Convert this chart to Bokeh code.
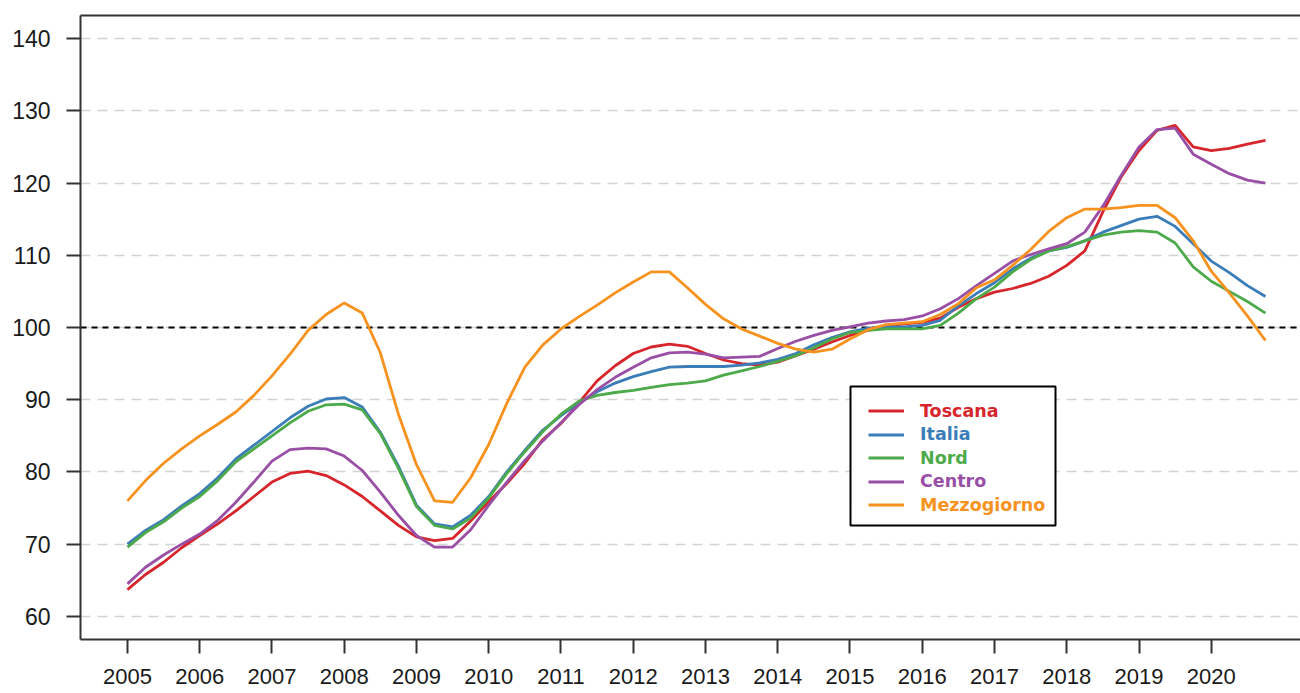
from bokeh.plotting import figure
from bokeh.models import (Range1d, FixedTicker, Span, Legend, LegendItem, LinearAxis,
                          BoxAnnotation)
from bokeh.embed import file_html
from bokeh.resources import INLINE

# ---------------- data (quarterly index, 2015 = 100) ----------------
years = list(range(2005, 2021))
quarters = [y + q / 4 for y in years for q in range(4)]

toscana = [63.7, 65.8, 67.5, 69.5, 71.2, 72.8, 74.6, 76.6, 78.6, 79.8, 80.1, 79.5,
           78.2, 76.6, 74.6, 72.6, 71.0, 70.5, 70.8, 73.2, 75.9, 78.4, 81.2, 84.5,
           86.7, 89.6, 92.6, 94.7, 96.4, 97.3, 97.7, 97.4, 96.4, 95.5, 95.0, 94.8,
           95.2, 96.1, 97.0, 98.0, 98.9, 99.6, 100.2, 100.5, 100.7, 101.3, 102.8, 104.0,
           104.9, 105.4, 106.1, 107.1, 108.6, 110.6, 116.0, 120.8, 124.5, 127.3, 128.0, 125.0,
           124.5, 124.8, 125.4, 125.9]
italia = [70.0, 71.9, 73.4, 75.3, 77.0, 79.2, 81.8, 83.7, 85.6, 87.5, 89.1, 90.1,
          90.3, 89.0, 85.5, 80.8, 75.4, 72.8, 72.4, 74.0, 76.6, 80.0, 83.0, 85.8,
          87.8, 89.6, 91.1, 92.3, 93.2, 93.9, 94.5, 94.6, 94.6, 94.6, 94.8, 95.1,
          95.6, 96.4, 97.6, 98.6, 99.4, 99.9, 100.1, 100.1, 100.3, 101.0, 103.0, 104.7,
          106.2, 108.1, 109.6, 110.6, 111.1, 112.0, 113.2, 114.1, 115.0, 115.4, 114.0, 111.6,
          109.2, 107.6, 105.8, 104.3]
nord = [69.6, 71.6, 73.1, 75.0, 76.6, 78.8, 81.4, 83.2, 85.0, 86.8, 88.4, 89.3,
        89.4, 88.6, 85.3, 80.5, 75.2, 72.6, 72.1, 73.6, 76.4, 79.8, 82.8, 85.6,
        88.0, 89.8, 90.6, 91.0, 91.3, 91.7, 92.1, 92.3, 92.6, 93.4, 94.0, 94.6,
        95.3, 96.1, 97.2, 98.4, 99.3, 99.6, 99.8, 99.8, 99.8, 100.3, 102.0, 104.0,
        105.6, 107.7, 109.4, 110.6, 111.2, 112.0, 112.8, 113.2, 113.4, 113.2, 111.7, 108.4,
        106.4, 105.0, 103.6, 102.0]
centro = [64.5, 66.8, 68.5, 70.0, 71.4, 73.3, 75.8, 78.6, 81.5, 83.1, 83.3, 83.2,
          82.2, 80.2, 77.2, 74.0, 71.2, 69.6, 69.6, 72.0, 75.4, 78.6, 81.6, 84.3,
          86.8, 89.3, 91.4, 93.1, 94.5, 95.8, 96.5, 96.6, 96.3, 95.8, 95.9, 96.0,
          97.1, 98.1, 98.9, 99.6, 100.1, 100.6, 100.9, 101.1, 101.6, 102.6, 104.0, 105.8,
          107.5, 109.2, 110.1, 110.9, 111.6, 113.2, 116.8, 121.0, 125.0, 127.4, 127.6, 124.0,
          122.6, 121.3, 120.4, 120.0]
mezzogiorno = [76.0, 78.8, 81.2, 83.2, 85.0, 86.6, 88.3, 90.6, 93.3, 96.3, 99.6, 101.8,
               103.4, 102.0, 96.5, 88.0, 81.0, 76.0, 75.8, 79.2, 83.8, 89.5, 94.5, 97.6,
               99.8, 101.5, 103.1, 104.8, 106.3, 107.7, 107.7, 105.5, 103.2, 101.2, 99.8, 98.8,
               97.8, 97.0, 96.6, 97.0, 98.4, 99.7, 100.4, 100.6, 100.8, 101.8, 103.3, 105.5,
               106.6, 108.6, 110.8, 113.3, 115.2, 116.4, 116.4, 116.6, 116.9, 116.9, 115.2, 112.0,
               107.8, 104.8, 101.6, 98.2]

names = ["Toscana", "Italia", "Nord", "Centro", "Mezzogiorno"]
series = [toscana, italia, nord, centro, mezzogiorno]
colors = ["#D7262B", "#3A7DB8", "#4DAA4A", "#9A4FA6", "#F7921E"]
y_ticks = [60, 70, 80, 90, 100, 110, 120, 130, 140]
x_ticks = years

# ---------------- figure / layout ----------------
W, H = 1300, 693
B_LEFT, B_TOP, B_BOTTOM = 80, 15, 54
X0, X1 = 2004.35, 2021.235
Y0, Y1 = 56.8, 143.2

p = figure(width=W, height=H, output_backend="svg", toolbar_location=None,
           x_range=Range1d(X0, X1), y_range=Range1d(Y0, Y1),
           min_border_left=B_LEFT, min_border_right=0, min_border_top=B_TOP,
           min_border_bottom=B_BOTTOM,
           background_fill_color="white", border_fill_color="white")
p.outline_line_color = None

# axes
for ax in (p.xaxis[0], p.yaxis[0]):
    ax.axis_line_color = "#333333"
    ax.axis_line_width = 2
    ax.major_tick_line_color = "#333333"
    ax.major_tick_line_width = 2
    ax.major_tick_in = 0
    ax.minor_tick_line_color = None
    ax.major_label_text_font = "Liberation Sans"
    ax.major_label_text_color = "#1a1a1a"

p.xaxis.ticker = FixedTicker(ticks=x_ticks)
p.xaxis.major_tick_out = 14
p.xaxis.major_label_standoff = 15
p.xaxis.major_label_text_font_size = "22px"

p.yaxis.ticker = FixedTicker(ticks=y_ticks)
p.yaxis.major_tick_out = 14
p.yaxis.major_label_standoff = 16
p.yaxis.major_label_text_font_size = "23px"

# top border (no right border as in the reference)
top_ax = LinearAxis(ticker=FixedTicker(ticks=[]), axis_line_color="#333333",
                    axis_line_width=2, major_tick_out=0, major_tick_in=0,
                    minor_tick_out=0, minor_tick_in=0, major_label_standoff=0,
                    major_label_text_font_size="0px")
p.add_layout(top_ax, "above")

# grid
p.xgrid.grid_line_color = None
p.ygrid.ticker = FixedTicker(ticks=y_ticks)
p.ygrid.grid_line_color = "#d4d4d4"
p.ygrid.grid_line_width = 1.5
p.ygrid.grid_line_dash = "10 7"

# reference line at 100
ref = Span(location=100, dimension="width", line_color="black", line_width=2,
           line_dash="6 5", level="underlay")
p.add_layout(ref)

# series
renderers = []
for name, vals, col in zip(names, series, colors):
    r = p.line(quarters, vals, line_color=col, line_width=2.8)
    renderers.append(r)

# ---------------- legend ----------------
frame_w = W - B_LEFT
frame_h = H - B_TOP - B_BOTTOM


def sx_to_x(px):
    return X0 + (px - B_LEFT) * (X1 - X0) / frame_w


def sy_to_y(py):
    return Y0 + (H - B_BOTTOM - py) * (Y1 - Y0) / frame_h


legend_box = BoxAnnotation(left=sx_to_x(850), right=sx_to_x(1055),
                           top=sy_to_y(386), bottom=sy_to_y(525),
                           fill_color="white", fill_alpha=1.0,
                           line_color="black", line_width=2, line_alpha=1.0)
p.add_layout(legend_box)

row_h = 23
row_step = 23.5
glyph_left = 868 - B_LEFT
bottom_row = (H - B_BOTTOM) - 516
n = len(names)
for k, (name, r, col) in enumerate(zip(names, renderers, colors)):
    lg = Legend(items=[LegendItem(label=name, renderers=[r])],
                location=(glyph_left, bottom_row + (n - 1 - k) * row_step),
                padding=0, spacing=0, margin=0, glyph_width=36, glyph_height=row_h,
                label_height=row_h, label_standoff=16,
                label_text_font="DejaVu Sans", label_text_font_style="bold",
                label_text_font_size="17.5px", label_text_color=col,
                border_line_color=None, background_fill_alpha=0.0)
    p.add_layout(lg)

open("out.html", "w").write(file_html(p, INLINE))
